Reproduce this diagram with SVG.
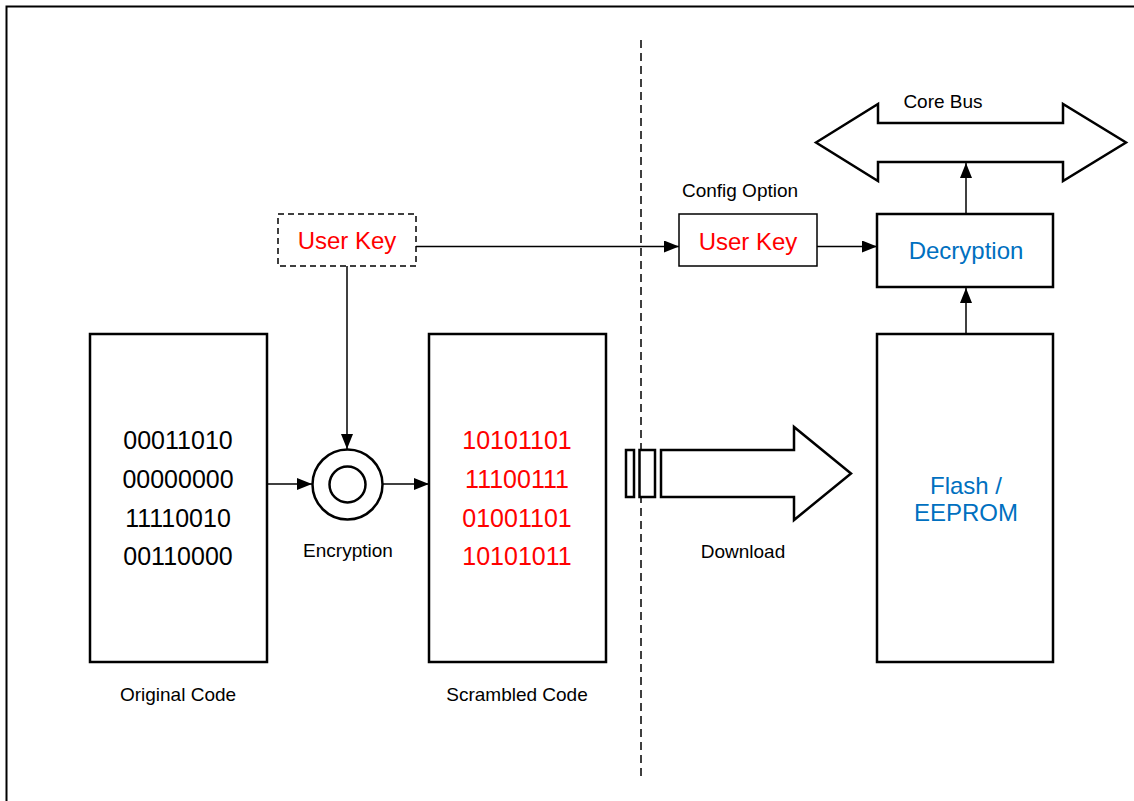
<svg xmlns="http://www.w3.org/2000/svg" width="1134" height="801" viewBox="0 0 1134 801">
<defs>
<marker id="ah" markerWidth="15" markerHeight="12" refX="15" refY="6" orient="auto" markerUnits="userSpaceOnUse">
<path d="M0,0 L15,6 L0,12 Z" fill="#000"/>
</marker>
<style>
.box{fill:#fff;stroke:#000;stroke-width:2.5}
.thin{fill:#fff;stroke:#000;stroke-width:1.5}
.conn{fill:none;stroke:#000;stroke-width:1.5}
.big{font-family:"Liberation Sans",Arial,sans-serif;font-size:24px;text-anchor:middle}
.dig{font-size:25px}
.lbl{font-family:"Liberation Sans",Arial,sans-serif;font-size:19px;text-anchor:middle;fill:#000}
.red{fill:#ff0000}
.blue{fill:#0070c0}
.blk{fill:#000}
</style>
</defs>
<rect x="0" y="0" width="1134" height="801" fill="#fff"/>
<rect x="6.5" y="6.5" width="1140" height="810" fill="none" stroke="#000" stroke-width="2"/>
<line x1="641" y1="40" x2="641" y2="780" stroke="#000" stroke-width="1.5" stroke-dasharray="8,5"/>

<g id="original-code">
<rect class="box" x="90" y="334" width="177" height="328"/>
<text class="big dig blk" x="178" y="449">00011010</text>
<text class="big dig blk" x="178" y="488">00000000</text>
<text class="big dig blk" x="178" y="527">11110010</text>
<text class="big dig blk" x="178" y="565">00110000</text>
<text class="lbl" x="178" y="701">Original Code</text>
</g>

<g id="scrambled-code">
<rect class="box" x="429" y="334" width="177" height="328"/>
<text class="big dig red" x="517" y="449">10101101</text>
<text class="big dig red" x="517" y="488">11100111</text>
<text class="big dig red" x="517" y="527">01001101</text>
<text class="big dig red" x="517" y="565">10101011</text>
<text class="lbl" x="517" y="701">Scrambled Code</text>
</g>

<g id="flash">
<rect class="box" x="877" y="334" width="176" height="328"/>
<text class="big blue" x="966" y="494">Flash /</text>
<text class="big blue" x="966" y="521">EEPROM</text>
</g>

<g id="decryption">
<rect class="box" x="877" y="214" width="176" height="73"/>
<text class="big blue" x="966" y="259">Decryption</text>
</g>

<g id="user-key-dashed">
<rect x="278" y="214" width="138" height="52" fill="#fff" stroke="#000" stroke-width="1.5" stroke-dasharray="6,4"/>
<text class="big red" x="347" y="249">User Key</text>
</g>

<g id="user-key-config">
<rect class="thin" x="679" y="214" width="138" height="52"/>
<text class="big red" x="748" y="250">User Key</text>
<text class="lbl" x="740" y="197">Config Option</text>
</g>

<g id="encryption">
<circle cx="347.5" cy="484.5" r="35" fill="#fff" stroke="#000" stroke-width="2.5"/>
<circle cx="347.5" cy="484.5" r="18" fill="#fff" stroke="#000" stroke-width="2.5"/>
<text class="lbl" x="348" y="557">Encryption</text>
</g>

<g id="download">
<rect x="626" y="450" width="8" height="47" fill="#fff" stroke="#000" stroke-width="2.5"/>
<rect x="639.5" y="450" width="15.5" height="47" fill="#fff" stroke="#000" stroke-width="2.5"/>
<path d="M661,450 L794,450 L794,427 L851,473.5 L794,520 L794,497 L661,497 Z" fill="#fff" stroke="#000" stroke-width="2.5"/>
<text class="lbl" x="743" y="558">Download</text>
</g>

<g id="core-bus">
<path d="M816,142.5 L878,104 L878,123 L1063,123 L1063,104 L1126,142.5 L1063,181 L1063,162 L878,162 L878,181 Z" fill="#fff" stroke="#000" stroke-width="2.5"/>
<text class="lbl" x="943" y="108">Core Bus</text>
</g>

<g id="connectors">
<path class="conn" d="M416,246.5 L679,246.5" marker-end="url(#ah)"/>
<path class="conn" d="M817,246.5 L877,246.5" marker-end="url(#ah)"/>
<path class="conn" d="M347,266 L347,449" marker-end="url(#ah)"/>
<path class="conn" d="M267,484 L312,484" marker-end="url(#ah)"/>
<path class="conn" d="M383,484 L429,484" marker-end="url(#ah)"/>
<path class="conn" d="M966,334 L966,288" marker-end="url(#ah)"/>
<path class="conn" d="M966,213 L966,163" marker-end="url(#ah)"/>
</g>
</svg>
